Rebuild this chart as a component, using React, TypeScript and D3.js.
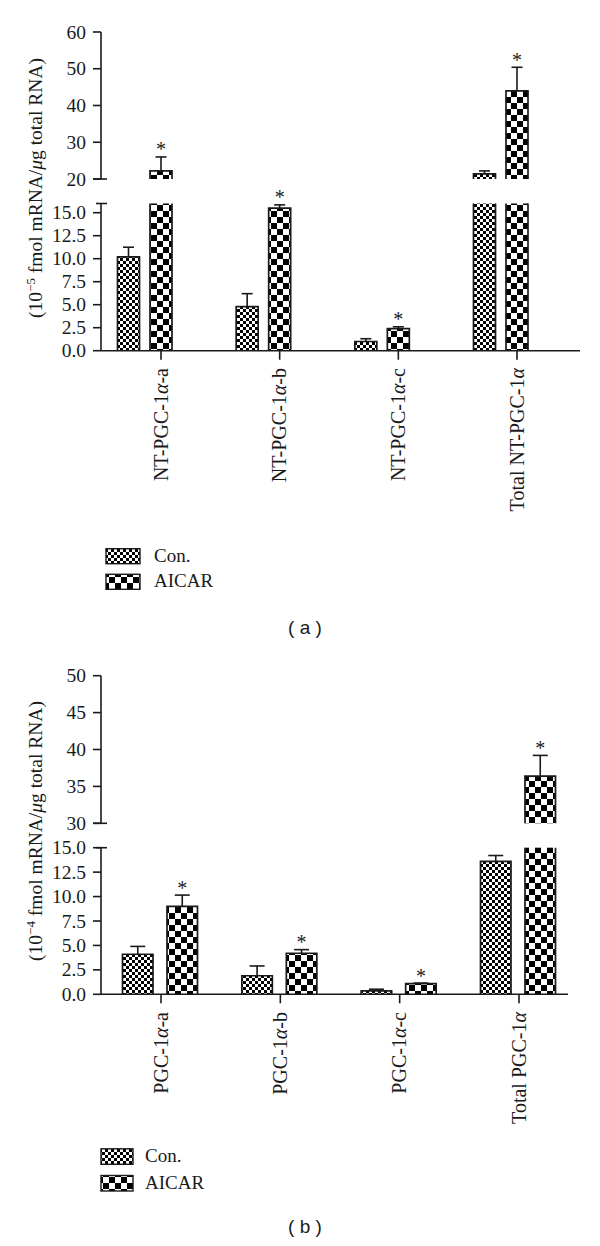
import React from 'react';
import * as d3 from 'd3';

// ---------- data ----------
const seriesNames = ['Con.', 'AICAR'];

const categoriesA = ['NT-PGC-1α-a', 'NT-PGC-1α-b', 'NT-PGC-1α-c', 'Total NT-PGC-1α'];
const conMeansA = [10.2, 4.8, 1.0, 21.4];
const conSemA = [1.05, 1.4, 0.3, 0.8];
const aicarMeansA = [22.2, 15.5, 2.4, 44.0];
const aicarSemA = [3.8, 0.35, 0.2, 6.4];
const lowerTicksA = [0, 2.5, 5, 7.5, 10, 12.5, 15];
const upperTicksA = [20, 30, 40, 50, 60];

const categoriesB = ['PGC-1α-a', 'PGC-1α-b', 'PGC-1α-c', 'Total PGC-1α'];
const conMeansB = [4.1, 1.9, 0.35, 13.6];
const conSemB = [0.8, 1.0, 0.17, 0.6];
const aicarMeansB = [9.0, 4.2, 1.1, 36.4];
const aicarSemB = [1.15, 0.37, 0.05, 2.8];
const lowerTicksB = [0, 2.5, 5, 7.5, 10, 12.5, 15];
const upperTicksB = [30, 35, 40, 45, 50];

const SERIF = '"Liberation Serif", "Times New Roman", serif';
const SANS = '"Liberation Sans", Arial, sans-serif';
const INK = '#1a1a1a';

type PanelCfg = {
  id: string;
  categories: string[];
  conMeans: number[];
  conSem: number[];
  aicarMeans: number[];
  aicarSem: number[];
  lowerTicks: number[];
  upperTicks: number[];
  axisX: number;
  xRange: [number, number];
  xAxisEnd: number;
  lowDomain: [number, number];
  lowRange: [number, number];
  upDomain: [number, number];
  upRange: [number, number];
  barW: number;
  offsets: [number, number];
  capW: number;
  exp: string;
  titleY: number;
  labelTop: number;
  swatchX: number;
  swatchW: number;
  swatchH: number;
  textX: number;
  legendBaselines: [number, number];
  letter: string;
  letterX: number;
  letterY: number;
};

const panelA: PanelCfg = {
  id: 'a',
  categories: categoriesA,
  conMeans: conMeansA,
  conSem: conSemA,
  aicarMeans: aicarMeansA,
  aicarSem: aicarSemA,
  lowerTicks: lowerTicksA,
  upperTicks: upperTicksA,
  axisX: 101,
  xRange: [161, 517],
  xAxisEnd: 580,
  lowDomain: [0, 16],
  lowRange: [350.7, 203.5],
  upDomain: [20, 60],
  upRange: [179, 32],
  barW: 22,
  offsets: [-43.5, -11],
  capW: 11,
  exp: '−5',
  titleY: 188,
  labelTop: 368,
  swatchX: 106,
  swatchW: 34,
  swatchH: 15,
  textX: 154,
  legendBaselines: [561.7, 587.3],
  letter: '( a )',
  letterX: 305,
  letterY: 634,
};

const panelB: PanelCfg = {
  id: 'b',
  categories: categoriesB,
  conMeans: conMeansB,
  conSem: conSemB,
  aicarMeans: aicarMeansB,
  aicarSem: aicarSemB,
  lowerTicks: lowerTicksB,
  upperTicks: upperTicksB,
  axisX: 101,
  xRange: [161, 519],
  xAxisEnd: 568,
  lowDomain: [0, 15],
  lowRange: [994.3, 847.7],
  upDomain: [30, 50],
  upRange: [823.3, 675.7],
  barW: 30.5,
  offsets: [-38.5, 6],
  capW: 15,
  exp: '−4',
  titleY: 831,
  labelTop: 1012,
  swatchX: 101,
  swatchW: 32,
  swatchH: 15.5,
  textX: 145,
  legendBaselines: [1162.3, 1189],
  letter: '( b )',
  letterX: 305,
  letterY: 1233,
};

const fmtLow = d3.format('.1f');
const fmtUp = d3.format('d');

function labelSpans(s: string) {
  return s.split(/(α)/).filter((p) => p.length > 0).map((p, i) =>
    p === 'α' ? (
      <tspan key={i} fontStyle="italic">α</tspan>
    ) : (
      <tspan key={i}>{p}</tspan>
    )
  );
}

function Panel({ cfg }: { cfg: PanelCfg }) {
  const x = d3.scalePoint<string>().domain(cfg.categories).range(cfg.xRange);
  const low = d3.scaleLinear().domain(cfg.lowDomain).range(cfg.lowRange);
  const up = d3.scaleLinear().domain(cfg.upDomain).range(cfg.upRange);
  const lowMax = cfg.lowDomain[1];
  const y0 = low(0);
  const yLowTop = low(lowMax);
  const yUpBottom = up(cfg.upDomain[0]);
  const yOf = (v: number, big: boolean) => (big ? up(v) : low(v));

  const series = [
    { means: cfg.conMeans, sem: cfg.conSem, pat: `con-${cfg.id}`, star: false },
    { means: cfg.aicarMeans, sem: cfg.aicarSem, pat: `aic-${cfg.id}`, star: true },
  ];

  const bars: React.ReactNode[] = [];
  series.forEach((s, si) => {
    cfg.categories.forEach((c, i) => {
      const bx = (x(c) as number) + cfg.offsets[si];
      const w = cfg.barW;
      const v = s.means[i];
      const big = v > lowMax;
      const fill = `url(#${s.pat})`;
      const key = `${si}-${i}`;
      if (!big) {
        const yv = low(v);
        bars.push(
          <g key={key}>
            <rect x={bx} y={yv} width={w} height={y0 - yv} fill={fill} />
            <path d={`M${bx},${y0}V${yv}H${bx + w}V${y0}`} fill="none" stroke={INK} strokeWidth={1.7} />
          </g>
        );
      } else {
        const yv = up(v);
        bars.push(
          <g key={key}>
            <rect x={bx} y={yLowTop} width={w} height={y0 - yLowTop} fill={fill} />
            <path d={`M${bx},${y0}V${yLowTop}M${bx + w},${yLowTop}V${y0}`} fill="none" stroke={INK} strokeWidth={1.7} />
            <rect x={bx} y={yv} width={w} height={yUpBottom - yv} fill={fill} />
            <path d={`M${bx},${yUpBottom}V${yv}H${bx + w}V${yUpBottom}`} fill="none" stroke={INK} strokeWidth={1.7} />
          </g>
        );
      }
      const cx = bx + w / 2;
      const yv = yOf(v, big);
      const ye = yOf(v + s.sem[i], big);
      bars.push(
        <g key={`e${key}`} stroke={INK} strokeWidth={1.6}>
          <line x1={cx} x2={cx} y1={yv} y2={ye} />
          <line x1={cx - cfg.capW / 2} x2={cx + cfg.capW / 2} y1={ye} y2={ye} />
        </g>
      );
      if (s.star) {
        bars.push(
          <text key={`s${key}`} x={cx} y={ye - 0.5} textAnchor="middle" fontFamily={SERIF} fontSize={20} fill={INK}>
            *
          </text>
        );
      }
    });
  });

  const ax = cfg.axisX;
  const tickFont = { fontFamily: SERIF, fontSize: 19.5, fill: INK };

  return (
    <g>
      <defs>
        <pattern id={`con-${cfg.id}`} patternUnits="userSpaceOnUse" width={6} height={6} x={0} y={0}>
          <rect width={6} height={6} fill="#fff" />
          <rect width={3} height={3} fill="#000" />
          <rect x={3} y={3} width={3} height={3} fill="#000" />
        </pattern>
        <pattern id={`aic-${cfg.id}`} patternUnits="userSpaceOnUse" width={12} height={12} x={1} y={1}>
          <rect width={12} height={12} fill="#fff" />
          <rect width={6} height={6} fill="#000" />
          <rect x={6} y={6} width={6} height={6} fill="#000" />
        </pattern>
      </defs>

      {bars}

      <g stroke={INK} strokeWidth={1.6}>
        <line x1={ax} x2={ax} y1={y0} y2={yLowTop} />
        <line x1={ax - 5} x2={ax + 6} y1={yLowTop} y2={yLowTop} />
        {cfg.lowerTicks.map((t) => (
          <line key={t} x1={ax - 8} x2={ax} y1={low(t)} y2={low(t)} />
        ))}
        <line x1={ax} x2={ax} y1={yUpBottom} y2={up(cfg.upDomain[1])} />
        <line x1={ax - 8} x2={ax + 6} y1={yUpBottom} y2={yUpBottom} />
        {cfg.upperTicks.map((t) => (
          <line key={t} x1={ax - 8} x2={ax} y1={up(t)} y2={up(t)} />
        ))}
        <line x1={ax} x2={cfg.xAxisEnd} y1={y0} y2={y0} />
        {cfg.categories.map((c) => (
          <line key={c} x1={x(c)} x2={x(c)} y1={y0} y2={y0 + 9} />
        ))}
      </g>
      {cfg.lowerTicks.map((t) => (
        <text key={`lt${t}`} x={ax - 15} y={low(t)} dy="0.34em" textAnchor="end" {...tickFont}>
          {fmtLow(t)}
        </text>
      ))}
      {cfg.upperTicks.map((t) => (
        <text key={`ut${t}`} x={ax - 15} y={up(t)} dy="0.34em" textAnchor="end" {...tickFont}>
          {fmtUp(t)}
        </text>
      ))}

      <text transform={`translate(42,${cfg.titleY}) rotate(-90)`} textAnchor="middle" fontFamily={SERIF} fontSize={19.5} fill={INK}>
        (10
        <tspan dy={-7.5} fontSize={13}>{cfg.exp}</tspan>
        <tspan dy={7.5}> fmol mRNA/</tspan>
        <tspan fontStyle="italic">μ</tspan>
        <tspan>g total RNA)</tspan>
      </text>

      {cfg.categories.map((c) => (
        <text
          key={`xl${c}`}
          transform={`translate(${(x(c) as number) + 6.5},${cfg.labelTop}) rotate(-90)`}
          textAnchor="end"
          fontFamily={SERIF}
          fontSize={20}
          fill={INK}
        >
          {labelSpans(c)}
        </text>
      ))}

      {seriesNames.map((n, i) => (
        <g key={n}>
          <rect
            x={cfg.swatchX}
            y={cfg.legendBaselines[i] - cfg.swatchH + 2}
            width={cfg.swatchW}
            height={cfg.swatchH}
            fill={`url(#${i === 0 ? `con-${cfg.id}` : `aic-${cfg.id}`})`}
            stroke={INK}
            strokeWidth={1.4}
          />
          <text x={cfg.textX} y={cfg.legendBaselines[i]} fontFamily={SERIF} fontSize={19} fill={INK}>
            {n}
          </text>
        </g>
      ))}

      <text x={cfg.letterX} y={cfg.letterY} textAnchor="middle" fontFamily={SANS} fontSize={19} fill={INK}>
        {cfg.letter}
      </text>
    </g>
  );
}

export default function App() {
  return (
    <svg
      width={600}
      height={1246}
      viewBox="0 0 600 1246"
      style={{ position: 'absolute', left: 0, top: 0, background: '#fff' }}
    >
      <rect width={600} height={1246} fill="#fff" />
      <Panel cfg={panelA} />
      <Panel cfg={panelB} />
    </svg>
  );
}
